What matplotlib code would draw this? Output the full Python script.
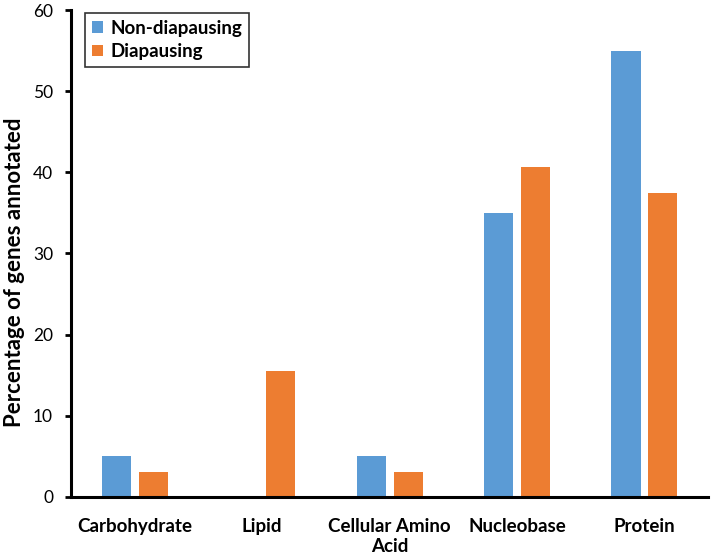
import numpy as np
import matplotlib
matplotlib.use("Agg")
import matplotlib.pyplot as plt

categories = ["Carbohydrate", "Lipid", "Cellular Amino\nAcid", "Nucleobase", "Protein"]
non_diapausing = [5.0, 0.0, 5.0, 35.0, 55.0]
diapausing = [3.1, 15.5, 3.1, 40.6, 37.5]
yticks = [0, 10, 20, 30, 40, 50, 60]

plt.rcParams["font.family"] = ["Lato", "DejaVu Sans"]

fig = plt.figure(figsize=(7.11, 5.57), dpi=100)
ax = fig.add_axes([0.1, 0.108, 0.896, 0.874])

x = np.arange(len(categories))
w = 0.228
gap = 0.062
ax.bar(x - (w + gap) / 2, non_diapausing, w, color="#5B9BD5", label="Non-diapausing")
ax.bar(x + (w + gap) / 2, diapausing, w, color="#ED7D31", label="Diapausing")

ax.set_xlim(-0.5, len(categories) - 0.5)
ax.set_ylim(0, 60)
ax.set_yticks(yticks)
ax.set_xticks(x)
ax.set_xticklabels(categories, fontweight="bold", fontsize=13.5, linespacing=1.25)
ax.tick_params(axis="x", length=0, pad=15)
ax.tick_params(axis="y", direction="out", length=4, width=2, labelsize=12.5, pad=9)
ax.set_ylabel("Percentage of genes annotated", fontweight="bold", fontsize=16)
ax.yaxis.set_label_coords(-0.072, 0.462)

for s in ["top", "right"]:
    ax.spines[s].set_visible(False)
for s in ["left", "bottom"]:
    ax.spines[s].set_linewidth(2.2)

leg = ax.legend(loc="upper left", bbox_to_anchor=(0.022, 0.994), frameon=True, fancybox=False,
                edgecolor="black", prop={"weight": "bold", "size": 13.5},
                handlelength=0.6, handleheight=0.6, handletextpad=0.4, borderpad=0.35,
                labelspacing=0.35, borderaxespad=0.0)
leg.get_frame().set_linewidth(1.2)

fig.savefig("out.png", dpi=100)
